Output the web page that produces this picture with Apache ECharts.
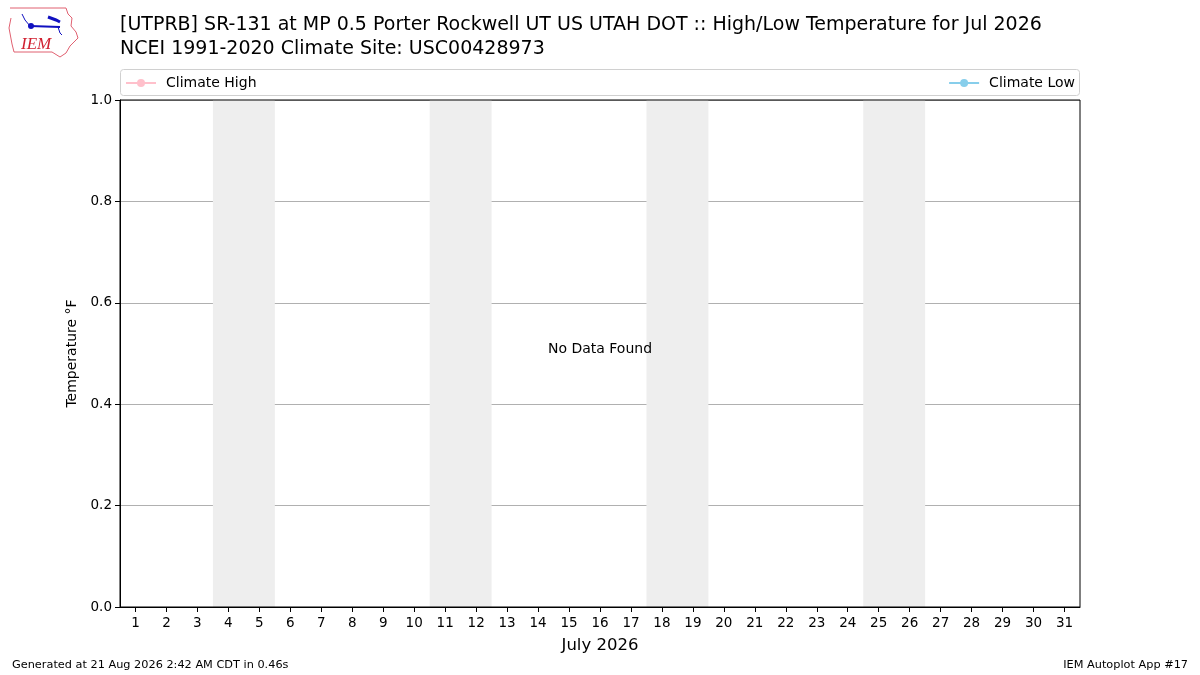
<!DOCTYPE html>
<html><head><meta charset="utf-8">
<script src="https://cdn.jsdelivr.net/npm/echarts@6/dist/echarts.min.js"></script>
<style>html,body{margin:0;padding:0;background:#fff}#c{width:1200px;height:675px}</style>
</head><body><div id="c"></div>
<script>
const days = Array.from({length:31},(_,i)=>String(i+1));
const climateHigh = [];
const climateLow = [];
const weekendBands = [[3.5,5.5],[10.5,12.5],[17.5,19.5],[24.5,26.5]];
const yTicks = [0,0.2,0.4,0.6,0.8,1.0];
const FONT = 'DejaVu Sans';
const chart = echarts.init(document.getElementById('c'));
chart.setOption({
  animation:false,
  textStyle:{fontFamily:FONT},
  title:[{text:'[UTPRB] SR-131 at MP 0.5 Porter Rockwell UT US UTAH DOT :: High/Low Temperature for Jul 2026\nNCEI 1991-2020 Climate Site: USC00428973',
    left:120, top:13, padding:0, textStyle:{fontFamily:FONT,fontSize:19,fontWeight:'normal',color:'#000',lineHeight:24}}],
  legend:[
    {data:['Climate High'], left:120, top:71, padding:5, itemWidth:30, itemHeight:10, textStyle:{fontFamily:FONT,fontSize:14,color:'#000',padding:[0,0,0,5]}},
    {data:['Climate Low'], right:120, top:71, padding:5, itemWidth:30, itemHeight:10, textStyle:{fontFamily:FONT,fontSize:14,color:'#000',padding:[0,0,0,5]}}
  ],
  grid:{left:120, right:120, top:100, bottom:68, show:true, borderColor:'#000', borderWidth:1, backgroundColor:'transparent', z:3},
  xAxis:[
    {type:'category', data:days, boundaryGap:true,
     name:'July 2026', nameLocation:'middle', nameGap:30, nameTextStyle:{fontFamily:FONT,fontSize:16.5,color:'#000'},
     axisLine:{show:true,lineStyle:{color:'#000'}}, axisTick:{show:true, alignWithLabel:true, interval:0, length:5, lineStyle:{color:'#000',width:1}},
     axisLabel:{color:'#000', fontSize:13.5, fontFamily:FONT, margin:9, interval:0}, splitLine:{show:false}},
    {type:'value', min:0.5, max:31.5, show:false}
  ],
  yAxis:{type:'value', min:0, max:1, interval:0.2,
    name:'Temperature °F', nameLocation:'middle', nameGap:36, nameTextStyle:{fontFamily:FONT,fontSize:14,color:'#000'},
    axisLine:{show:true,lineStyle:{color:'#000'}}, axisTick:{show:true,length:5,lineStyle:{color:'#000',width:1}},
    axisLabel:{color:'#000', fontSize:13.5, fontFamily:FONT, formatter:v=>v.toFixed(1)},
    splitLine:{show:true, lineStyle:{color:'#b0b0b0', width:1}}},
  series:[
    {name:'Weekend', type:'line', xAxisIndex:1, data:[], silent:true, z:-5,
     markArea:{silent:true, itemStyle:{color:'#eeeeee'}, data: weekendBands.map(b=>[{xAxis:b[0]},{xAxis:b[1]}])}},
    {name:'Climate High', type:'line', data:climateHigh, symbol:'circle', symbolSize:8, color:'#ffc0cb', lineStyle:{color:'#ffc0cb',width:1.5}},
    {name:'Climate Low', type:'line', data:climateLow, symbol:'circle', symbolSize:8, color:'#87ceeb', lineStyle:{color:'#87ceeb',width:1.5}}
  ],
  graphic:[
    {type:'rect', shape:{x:120.5,y:69.5,width:959,height:26,r:3}, style:{fill:'none',stroke:'#d0d0d0',lineWidth:1}, z:-1},
    {type:'text', x:600, y:349, z:100, style:{text:'No Data Found', fontFamily:FONT, fontSize:14, fill:'#000', textAlign:'center', textVerticalAlign:'middle'}},
    {type:'text', x:12, y:665, style:{text:'Generated at 21 Aug 2026 2:42 AM CDT in 0.46s', fontFamily:FONT, fontSize:11.3, fill:'#000', textVerticalAlign:'middle'}},
    {type:'text', x:1188, y:665, style:{text:'IEM Autoplot App #17', fontFamily:FONT, fontSize:11.3, fill:'#000', textAlign:'right', textVerticalAlign:'middle'}},
    {type:'polyline', shape:{points:[[10,8],[66,8],[68,14],[72,18],[71,26],[76,32],[78,38],[70,46],[66,53],[60,57],[52,52],[14,52],[12,44],[9,28],[11,18]]}, style:{fill:'none',stroke:'#e06070',lineWidth:1}},
    {type:'polyline', shape:{points:[[30,26],[60,27]]}, style:{stroke:'#1010c0',lineWidth:2}},
    {type:'circle', shape:{cx:31,cy:26,r:3}, style:{fill:'#1010c0'}},
    {type:'polyline', shape:{points:[[48,17],[56,20],[60,22]]}, style:{stroke:'#1010c0',lineWidth:3,fill:'none'}},
    {type:'polyline', shape:{points:[[58,27],[60,33],[62,35]]}, style:{stroke:'#1010c0',lineWidth:1,fill:'none'}},
    {type:'polyline', shape:{points:[[22,14],[25,20],[30,26]]}, style:{stroke:'#1010c0',lineWidth:1,fill:'none'}},
    {type:'text', x:21, y:45, style:{text:'IEM', fontFamily:'Liberation Serif', fontStyle:'italic', fontSize:17, fill:'#d02030', textVerticalAlign:'middle'}}
  ]
});
</script></body></html>
